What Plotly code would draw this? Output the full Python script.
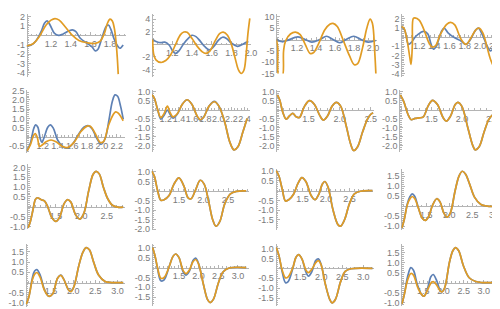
import plotly.graph_objects as go

BLUE = "#5E81B5"
ORANGE = "#E19C24"

# ---------------- data ----------------
p1_bx = [0.95,1.0,1.05,1.1,1.133,1.16,1.19,1.233,1.277,1.323,1.383,1.417,1.45,1.5,1.567,1.617,1.65,1.677,1.717,1.76,1.783,1.81,1.843,1.877,1.9,1.933]
p1_by = [-1.14,-1.03,-0.55,0.41,1.28,1.55,1.1,0.24,0,0.14,0.48,0.59,0.41,-0.34,-0.86,-1.24,-1.66,-1.48,-0.28,0.93,1.1,0.59,-0.45,-1.14,-1.38,-1.03]
p1_ox = [0.95,1.017,1.083,1.15,1.2,1.24,1.283,1.35,1.417,1.483,1.567,1.65,1.7,1.743,1.773,1.8,1.823,1.843,1.86,1.873,1.883]
p1_oy = [-1.14,-0.9,-0.1,1.1,1.62,1.79,1.62,0.83,0,-0.55,-0.79,-0.86,-0.62,0.24,1.28,1.72,1.52,0.76,-0.62,-2.34,-4.14]

p2_bx = [1.0,1.04,1.083,1.123,1.167,1.207,1.233,1.267,1.317,1.367,1.4,1.44,1.483,1.533,1.577,1.617,1.667,1.71,1.75,1.8,1.86,1.9,1.95,1.973]
p2_by = [0.77,0.41,0.26,0.36,-0.1,-1.13,-1.44,-1.03,0.15,1.03,1.44,1.23,0.51,-0.41,-0.87,-0.41,0.62,1.13,0.92,0.21,-0.31,-0.1,0.31,0.41]
p2_ox = [1.0,1.01,1.033,1.083,1.133,1.183,1.233,1.283,1.317,1.35,1.4,1.45,1.5,1.54,1.583,1.633,1.683,1.717,1.76,1.8,1.84,1.873,1.9,1.927,1.95,1.967,1.987]
p2_oy = [0.77,-1.54,-2.46,-2.87,-2.56,-1.64,0,1.54,1.95,1.9,0.92,-0.26,-1.13,-1.44,-1.03,0.51,1.74,1.95,1.44,0,-2.31,-4.1,-4.62,-4.1,-1.54,1.54,4.1]

p3_bx = [0.983,1.045,1.097,1.21,1.286,1.355,1.441,1.51,1.579,1.648,1.717,1.797,1.872,1.948,2.028]
p3_by = [0,-1.0,-0.43,1.14,0,-1.14,0,1.43,0,-1.43,0,1.43,0,-1.14,-0.43]
p3_ox = [0.983,0.997,1.01,1.045,1.059,1.079,1.131,1.183,1.234,1.286,1.338,1.372,1.424,1.493,1.545,1.579,1.624,1.683,1.752,1.803,1.838,1.89,1.934,1.969,1.993,2.017,2.031]
p3_oy = [0,-3.57,-16.4,-16.4,-5,-0.71,2.43,3.29,2.14,-2.14,-6.14,-5.86,-2.14,4.29,6.71,7.14,5.71,0,-7.14,-11.14,-10.7,-3.57,5,9,7.14,-5,-16.4]

p4_bx = [0.966,1.009,1.06,1.094,1.157,1.221,1.264,1.315,1.357,1.391,1.434,1.498,1.528,1.583,1.668,1.753,1.809,1.86,1.945,1.979,2.03,2.094,2.136,2.179,2.209]
p4_by = [1.12,0.77,-0.81,-0.63,0.07,0.49,0.6,0.32,-0.81,-1.33,-0.81,0.67,0.95,0.42,-0.1,-0.46,-0.81,-0.46,0.77,0.95,0.25,-0.98,-1.51,-1.23,-0.81]
p4_ox = [0.966,1.0,1.043,1.077,1.094,1.111,1.123,1.145,1.2,1.264,1.328,1.37,1.413,1.477,1.562,1.613,1.668,1.753,1.817,1.881,1.945,1.987,2.038,2.094,2.136,2.179,2.209]
p4_oy = [1.12,0.95,-0.46,-2.21,-2.98,-0.81,2.0,2.07,1.82,0.77,-0.63,-1.09,-0.98,0.25,1.37,1.58,1.3,-0.28,-0.81,-0.1,0.77,0.95,0.42,-1.16,-2.39,-3.26,-3.96]

p5_bx = [0.987,1.031,1.076,1.102,1.133,1.164,1.187,1.213,1.267,1.302,1.342,1.4,1.467,1.533,1.6,1.689,1.756,1.813,1.867,1.933,1.991,2.044,2.098,2.142,2.178,2.213,2.253,2.289]
p5_by = [-0.75,-0.35,0.44,0.65,0.52,-0.09,-0.3,-0.09,0.52,0.65,0.47,-0.17,-0.52,-0.61,-0.4,0.17,0.52,0.61,0.44,-0.09,-0.4,-0.09,0.96,1.92,2.27,2.19,1.66,0.96]
p5_ox = [0.987,1.031,1.076,1.102,1.129,1.156,1.191,1.244,1.311,1.378,1.467,1.533,1.622,1.711,1.8,1.844,1.911,1.978,2.022,2.089,2.156,2.187,2.222,2.289]
p5_oy = [-0.75,-0.44,0.09,0.17,-0.09,-0.52,-0.44,-0.26,-0.17,-0.26,-0.52,-0.58,-0.3,0.26,0.58,0.58,0.17,-0.3,-0.26,0.61,1.22,1.35,1.28,0.87]

p6_x = [0.99,1.025,1.075,1.125,1.175,1.225,1.265,1.31,1.375,1.45,1.525,1.6,1.675,1.725,1.775,1.86,1.94,2.01,2.1,2.175,2.24,2.3,2.375,2.44]
p6_by = [0.82,0.64,0.02,-0.52,-0.3,-0.02,-0.25,-0.46,-0.25,0.29,0.55,0.29,-0.34,-0.57,-0.43,0.2,0.46,0.2,-0.7,-1.77,-2.21,-2.04,-1.23,-0.48]
p6_oy = [0.82,0.64,0.02,-0.43,-0.2,0.2,-0.15,-0.39,-0.22,0.29,0.55,0.29,-0.32,-0.55,-0.43,0.2,0.44,0.2,-0.7,-1.77,-2.21,-2.04,-1.23,-0.48]

p7_x = [1.0,1.037,1.089,1.142,1.195,1.247,1.3,1.353,1.437,1.516,1.595,1.684,1.737,1.805,1.879,1.947,2.016,2.105,2.174,2.226,2.289,2.368,2.447,2.5,2.537]
p7_y = [0.82,0.55,-0.16,-0.52,-0.34,-0.2,-0.39,-0.43,0.2,0.5,0.29,-0.34,-0.57,-0.34,0.2,0.41,0.2,-0.88,-1.86,-2.25,-2.04,-1.23,-0.52,-0.25,-0.16]

p8_x = [0.986,1.041,1.111,1.165,1.23,1.295,1.365,1.446,1.516,1.597,1.689,1.743,1.814,1.889,1.932,1.997,2.095,2.176,2.22,2.284,2.365,2.446,2.516,2.581]
p8_y = [0.82,0.46,-0.25,-0.55,-0.48,-0.45,-0.39,0.23,0.52,0.29,-0.43,-0.63,-0.34,0.29,0.41,0.2,-0.96,-1.95,-2.21,-2.04,-1.23,-0.52,-0.25,-0.16]

p9_x = [0.952,0.997,1.048,1.094,1.132,1.21,1.274,1.339,1.423,1.5,1.565,1.661,1.726,1.79,1.887,1.971,2.048,2.145,2.229,2.287,2.352,2.435,2.519,2.61,2.713,2.823]
p9_y = [-1.07,-0.74,-0.16,0.36,0.46,0.36,0.3,0,-0.57,-0.74,-0.57,0.16,0.36,0.25,-0.41,-0.62,-0.33,0.82,1.64,1.8,1.67,0.98,0.41,0.08,-0.02,-0.02]

p10_x = [0.947,1.0,1.067,1.133,1.2,1.3,1.4,1.5,1.6,1.687,1.747,1.833,1.933,2.013,2.1,2.187,2.253,2.333,2.433,2.547,2.667,2.867]
p10_y = [1.03,0.78,0.02,-0.49,-0.46,-0.24,0.36,0.69,0.27,-0.36,-0.41,0.02,0.56,0.36,-0.49,-1.51,-1.85,-1.59,-0.66,-0.15,-0.02,0]

p11_x = [0.94,0.996,1.066,1.136,1.206,1.311,1.402,1.486,1.57,1.682,1.766,1.85,1.92,1.976,2.045,2.15,2.255,2.311,2.395,2.5,2.605,2.731,2.99]
p11_y = [1.03,0.75,0.08,-0.53,-0.47,-0.17,0.37,0.67,0.47,-0.25,-0.47,-0.17,0.33,0.47,0.17,-1.0,-1.75,-1.83,-1.5,-0.67,-0.17,-0.03,0]

p12_x = [0.976,1.024,1.094,1.15,1.199,1.255,1.325,1.416,1.486,1.556,1.64,1.731,1.801,1.885,1.955,2.024,2.129,2.213,2.283,2.353,2.444,2.549,2.689,2.829,3.038]
p12_by = [-1.08,-0.68,0.13,0.48,0.61,0.48,-0.03,-0.6,-0.71,-0.52,0.05,0.37,0.21,-0.35,-0.55,-0.35,0.77,1.5,1.74,1.61,1.1,0.45,0.08,0,0]
p12_oy = [-1.08,-0.68,0.08,0.37,0.48,0.37,-0.05,-0.6,-0.71,-0.52,0.05,0.37,0.21,-0.35,-0.55,-0.35,0.77,1.5,1.74,1.61,1.1,0.45,0.08,0,0]

p13_x = [0.944,1.004,1.078,1.13,1.181,1.256,1.352,1.448,1.537,1.648,1.722,1.796,1.893,1.952,2.019,2.13,2.219,2.293,2.367,2.463,2.574,2.722,2.87,3.13]
p13_by = [-1.06,-0.67,0.21,0.56,0.63,0.37,-0.35,-0.67,-0.56,0.21,0.37,0.13,-0.35,-0.43,-0.19,0.84,1.48,1.71,1.6,1.0,0.37,0.05,0,0]
p13_oy = [-1.06,-0.67,0.12,0.4,0.49,0.25,-0.38,-0.67,-0.56,0.21,0.35,0.12,-0.35,-0.45,-0.19,0.84,1.48,1.71,1.6,1.0,0.37,0.05,0,0]

p14_x = [0.833,0.892,0.958,1.042,1.125,1.25,1.35,1.417,1.5,1.608,1.683,1.767,1.858,1.925,2.0,2.125,2.225,2.292,2.375,2.5,2.625,2.775,3.208]
p14_by = [1.02,0.61,-0.05,-0.67,-0.62,0.03,0.57,0.69,0.52,-0.21,-0.38,-0.18,0.36,0.48,0.2,-0.87,-1.61,-1.77,-1.61,-0.79,-0.21,-0.02,0]
p14_oy = [1.02,0.61,0.0,-0.54,-0.5,0.03,0.57,0.69,0.52,-0.15,-0.3,-0.12,0.3,0.41,0.18,-0.87,-1.61,-1.77,-1.61,-0.79,-0.21,-0.02,0]

p15_x = [0.93,0.992,1.07,1.148,1.211,1.32,1.398,1.461,1.539,1.633,1.695,1.773,1.867,1.93,1.992,2.102,2.203,2.258,2.336,2.461,2.57,2.711,3.219]
p15_by = [1.05,0.64,-0.18,-0.72,-0.67,-0.02,0.56,0.69,0.48,-0.18,-0.39,-0.18,0.39,0.48,0.23,-0.84,-1.57,-1.74,-1.57,-0.67,-0.15,-0.02,0]
p15_oy = [1.05,0.64,-0.1,-0.48,-0.43,0.02,0.56,0.69,0.48,-0.08,-0.21,-0.05,0.28,0.39,0.2,-0.84,-1.57,-1.74,-1.57,-0.67,-0.15,-0.02,0]

p16_x = [0.972,1.028,1.11,1.191,1.256,1.354,1.459,1.516,1.598,1.687,1.744,1.825,1.907,1.955,2.028,2.15,2.232,2.297,2.378,2.492,2.638,2.8,2.963,3.37]
p16_by = [-1.05,-0.6,0.29,0.74,0.61,-0.11,-0.6,-0.68,-0.35,0.29,0.4,0.13,-0.35,-0.47,-0.27,1.02,1.58,1.74,1.58,0.85,0.24,0.05,0,0]
p16_oy = [-1.05,-0.6,0.12,0.45,0.37,-0.2,-0.6,-0.68,-0.4,-0.03,0.05,-0.11,-0.38,-0.47,-0.27,1.02,1.58,1.74,1.58,0.85,0.24,0.05,0,0]

x_ticks_a = [1.2, 1.4, 1.6, 1.8]
x_ticks_b = [1.2, 1.4, 1.6, 1.8, 2.0]
x_ticks_c = [1.2, 1.4, 1.6, 1.8, 2.0, 2.2]
x_ticks_d = [1.2, 1.4, 1.6, 1.8, 2.0, 2.2, 2.4]
x_ticks_e = [1.5, 2.0, 2.5]
x_ticks_f = [1.5, 2.0, 2.5, 3.0]

series = [
    (p1_bx, p1_by, p1_ox, p1_oy),
    (p2_bx, p2_by, p2_ox, p2_oy),
    (p3_bx, p3_by, p3_ox, p3_oy),
    (p4_bx, p4_by, p4_ox, p4_oy),
    (p5_bx, p5_by, p5_ox, p5_oy),
    (p6_x, p6_by, p6_x, p6_oy),
    (p7_x, p7_y, p7_x, p7_y),
    (p8_x, p8_y, p8_x, p8_y),
    (p9_x, p9_y, p9_x, p9_y),
    (p10_x, p10_y, p10_x, p10_y),
    (p11_x, p11_y, p11_x, p11_y),
    (p12_x, p12_by, p12_x, p12_oy),
    (p13_x, p13_by, p13_x, p13_oy),
    (p14_x, p14_by, p14_x, p14_oy),
    (p15_x, p15_by, p15_x, p15_oy),
    (p16_x, p16_by, p16_x, p16_oy),
]

# ---------------- layout (pixel boxes and ranges per panel) ----------------
# (L, R, T, B, xmin, xmax, ymin, ymax, xticks, yticks, x_minor, y_minor)
panels = [
    (17, 118, 2, 67, 0.953, 1.963, -4.45, 2.28, x_ticks_a, [-4, -3, -2, -1, 1, 2], 0.05, 0.2),
    (144.3, 245, 2, 67, 0.993, 2.0, -5.18, 4.82, x_ticks_b, [-4, -2, 2, 4], 0.05, 0.5),
    (270.7, 373.3, 2, 63.3, 0.983, 2.045, -15, 11.3, x_ticks_b, [-15, -10, -5, 5, 10], 0.05, 1),
    (397.7, 497, 2, 67, 0.966, 2.25, -4.35, 2.49, x_ticks_c, [-4, -3, -2, -1, 1, 2], 0.05, 0.2),
    (16.7, 116.7, 80, 145, 0.978, 2.311, -0.86, 2.55, x_ticks_c, [-0.5, 0.5, 1.0, 1.5, 2.0, 2.5], 0.05, 0.1),
    (144.3, 244.3, 80, 144, 0.99, 2.49, -2.32, 1.107, x_ticks_d, [-2.0, -1.5, -1.0, -0.5, 0.5, 1.0], 0.05, 0.1),
    (270.7, 370, 80, 144, 0.984, 2.553, -2.32, 1.107, x_ticks_e, [-2.0, -1.5, -1.0, -0.5, 0.5, 1.0], 0.1, 0.1),
    (395.7, 495.7, 80, 144, 0.97, 2.59, -2.32, 1.107, x_ticks_e, [-2.0, -1.5, -1.0, -0.5, 0.5, 1.0], 0.1, 0.1),
    (17.7, 116.7, 157, 223, 0.939, 2.855, -1.1, 2.15, x_ticks_e, [-1.0, -0.5, 0.5, 1.0, 1.5, 2.0], 0.1, 0.1),
    (144, 243.3, 162, 225, 0.947, 2.933, -2.07, 1.137, x_ticks_e, [-2.0, -1.5, -1.0, -0.5, 0.5, 1.0], 0.1, 0.1),
    (270, 369.3, 162, 225, 0.927, 3.01, -2.05, 1.1, x_ticks_e, [-1.5, -1.0, -0.5, 0.5, 1.0], 0.1, 0.1),
    (397.7, 498.3, 162, 224.7, 0.962, 3.11, -1.2, 1.84, x_ticks_f, [-1.0, -0.5, 0.5, 1.0, 1.5], 0.1, 0.1),
    (16, 116.7, 239.3, 303.7, 0.93, 3.167, -1.19, 1.87, x_ticks_f, [-1.0, -0.5, 0.5, 1.0, 1.5], 0.1, 0.1),
    (144.3, 242.7, 239.3, 302.7, 0.817, 3.275, -1.94, 1.18, x_ticks_f, [-1.5, -1.0, -0.5, 0.5, 1.0], 0.1, 0.1),
    (270, 370, 239.3, 302.7, 0.914, 3.258, -1.89, 1.21, x_ticks_f, [-1.5, -1.0, -0.5, 0.5, 1.0], 0.1, 0.1),
    (397.7, 498.3, 239.3, 302.7, 0.955, 3.41, -1.16, 1.9, x_ticks_f, [-1.0, -0.5, 0.5, 1.0, 1.5], 0.1, 0.1),
]

W, H = 500, 309
AXIS_COLOR = "#b4b4b4"
LABEL_COLOR = "#7a7a7a"
FONT = dict(family="Liberation Sans, Arial, sans-serif", size=9, color=LABEL_COLOR)


def fmt(vals):
    if all(isinstance(v, int) for v in vals):
        return [str(v) for v in vals]
    return [f"{v:.1f}" for v in vals]


fig = go.Figure()
layout = {}
for i, ((bx, by, ox, oy), p) in enumerate(zip(series, panels), start=1):
    assert len(bx) == len(by) and len(ox) == len(oy), i
    L, R, T, B, x0, x1, y0, y1, xt, yt, xm, ym = p
    xr = "x" if i == 1 else f"x{i}"
    yr = "y" if i == 1 else f"y{i}"
    fig.add_trace(go.Scatter(x=bx, y=by, mode="lines", xaxis=xr, yaxis=yr,
                             line=dict(color=BLUE, width=1.7, shape="spline", smoothing=1.0),
                             showlegend=False, hoverinfo="skip"))
    fig.add_trace(go.Scatter(x=ox, y=oy, mode="lines", xaxis=xr, yaxis=yr,
                             line=dict(color=ORANGE, width=1.7, shape="spline", smoothing=1.0),
                             showlegend=False, hoverinfo="skip"))
    dx = [L / W, R / W]
    dy = [1 - B / H, 1 - T / H]
    zero_pos = dy[0] + (0 - y0) / (y1 - y0) * (dy[1] - dy[0])
    xa = "xaxis" if i == 1 else f"xaxis{i}"
    ya = "yaxis" if i == 1 else f"yaxis{i}"
    layout[xa] = dict(domain=dx, range=[x0, x1], anchor="free", position=zero_pos,
                      showline=True, linecolor=AXIS_COLOR, linewidth=1,
                      showgrid=False, zeroline=False,
                      tickmode="array", tickvals=xt, ticktext=fmt(xt), tickangle=0,
                      ticks="inside", ticklen=3, tickcolor=AXIS_COLOR,
                      minor=dict(ticks="inside", ticklen=1.5, tickcolor=AXIS_COLOR, dtick=xm, tick0=0),
                      tickfont=FONT, layer="below traces", fixedrange=True)
    layout[ya] = dict(domain=dy, range=[y0, y1], anchor="free", position=dx[0],
                      showline=True, linecolor=AXIS_COLOR, linewidth=1,
                      showgrid=False, zeroline=False,
                      tickmode="array", tickvals=yt, ticktext=fmt(yt), tickangle=0,
                      ticks="inside", ticklen=3, tickcolor=AXIS_COLOR,
                      minor=dict(ticks="inside", ticklen=1.5, tickcolor=AXIS_COLOR, dtick=ym, tick0=0),
                      tickfont=FONT, layer="below traces", fixedrange=True)

fig.update_layout(**layout)
fig.update_layout(width=W, height=H, autosize=False,
                  margin=dict(l=0, r=0, t=0, b=0),
                  paper_bgcolor="white", plot_bgcolor="white",
                  showlegend=False)

fig.write_html("out.html")
